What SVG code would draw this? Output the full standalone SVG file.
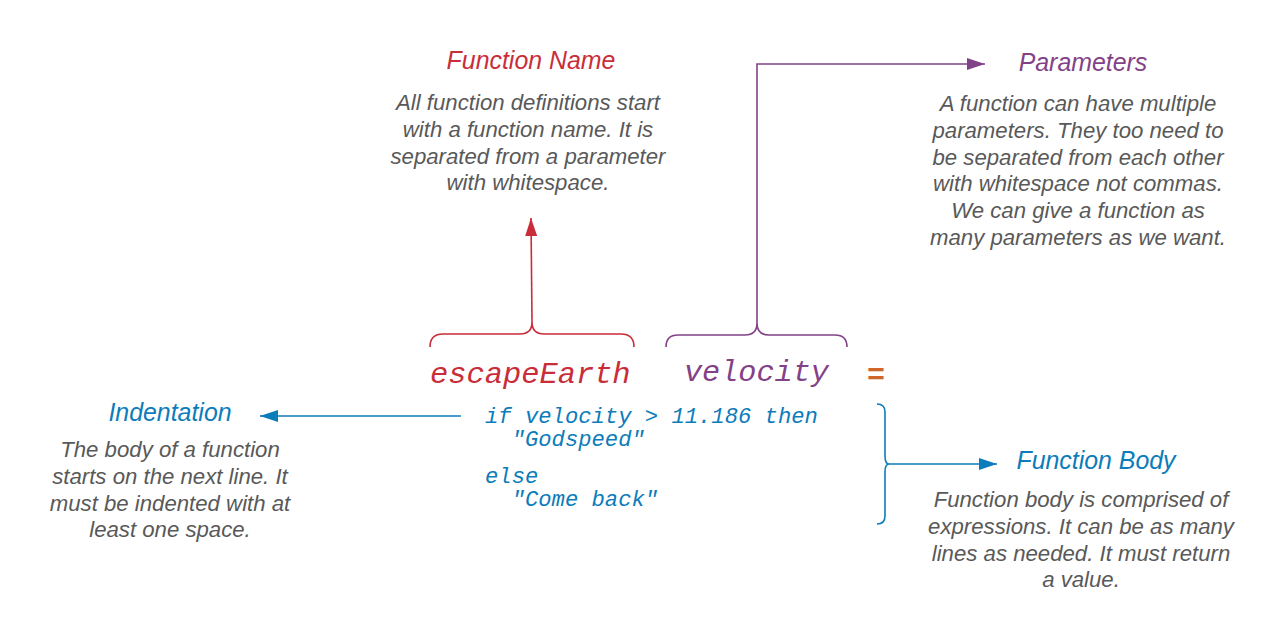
<svg xmlns="http://www.w3.org/2000/svg" width="1284" height="631" viewBox="0 0 1284 631">
<defs>
<style>
.t{font-family:"Liberation Sans",Arial,sans-serif;font-style:italic;text-anchor:middle}
.h{font-size:24.9px}
.d{font-size:22.2px;fill:#595959}
.m{font-family:"Liberation Mono","Courier New",monospace;font-style:italic}
.red{fill:#c92d39}.pur{fill:#834187}.blu{fill:#0c7cba}
.c{fill:none;stroke-width:1.6}
</style>
<marker id="ar-r" viewBox="0 0 18 12" refX="18" refY="6" markerWidth="18" markerHeight="12" markerUnits="userSpaceOnUse" orient="auto"><path d="M0,0 L18,6 L0,12 Z" fill="#c92d39"/></marker>
<marker id="ar-p" viewBox="0 0 18 12" refX="18" refY="6" markerWidth="18" markerHeight="12" markerUnits="userSpaceOnUse" orient="auto"><path d="M0,0 L18,6 L0,12 Z" fill="#834187"/></marker>
<marker id="ar-b" viewBox="0 0 18 12" refX="18" refY="6" markerWidth="18" markerHeight="12" markerUnits="userSpaceOnUse" orient="auto"><path d="M0,0 L18,6 L0,12 Z" fill="#0c7cba"/></marker>
</defs>
<rect width="1284" height="631" fill="#fff"/>
<g id="connectors">
<path class="c" stroke="#c92d39" d="M430,347 Q430,334 443,334 L520,334 Q532,334 532,322 Q532,334 544,334 L621,334 Q634,334 634,347"/>
<path class="c" stroke="#c92d39" d="M532,322 L531,218" marker-end="url(#ar-r)"/>
<path class="c" stroke="#834187" d="M666,347 Q666,335 678,335 L745,335 Q757,335 757,323 Q757,335 769,335 L835,335 Q847,335 847,347"/>
<path class="c" stroke="#834187" d="M757,323 L757,64 L985,64" marker-end="url(#ar-p)"/>
<path class="c" stroke="#0c7cba" d="M877,404 Q885,404 885,412 L885,456 Q885,464 889,464 Q885,464 885,472 L885,516 Q885,524 877,524"/>
<path class="c" stroke="#0c7cba" d="M889,464 L997,464" marker-end="url(#ar-b)"/>
<path class="c" stroke="#0c7cba" d="M461,416 L260,416" marker-end="url(#ar-b)"/>
</g>
<g id="function-name">
<text class="t h red" x="531" y="69">Function Name</text>
<text class="t d" x="528"><tspan x="528" y="110">All function definitions start</tspan><tspan x="528" y="137">with a function name. It is</tspan><tspan x="528" y="164">separated from a parameter</tspan><tspan x="528" y="190">with whitespace.</tspan></text>
</g>
<g id="parameters">
<text class="t h pur" x="1083" y="71">Parameters</text>
<text class="t d"><tspan x="1078" y="111">A function can have multiple</tspan><tspan x="1078" y="138">parameters. They too need to</tspan><tspan x="1078" y="165">be separated from each other</tspan><tspan x="1078" y="191">with whitespace not commas.</tspan><tspan x="1078" y="218">We can give a function as</tspan><tspan x="1078" y="245">many parameters as we want.</tspan></text>
</g>
<g id="indentation">
<text class="t h blu" x="170" y="421">Indentation</text>
<text class="t d"><tspan x="170" y="457">The body of a function</tspan><tspan x="170" y="484">starts on the next line. It</tspan><tspan x="170" y="511">must be indented with at</tspan><tspan x="170" y="537">least one space.</tspan></text>
</g>
<g id="function-body">
<text class="t h blu" x="1096" y="469">Function Body</text>
<text class="t d"><tspan x="1081" y="507">Function body is comprised of</tspan><tspan x="1081" y="534">expressions. It can be as many</tspan><tspan x="1081" y="561">lines as needed. It must return</tspan><tspan x="1081" y="587">a value.</tspan></text>
</g>
<g id="escapeEarth"><text class="m red" x="430" y="383" font-size="30.4">escapeEarth</text></g>
<g id="velocity"><text class="m pur" x="684" y="381" font-size="30.2">velocity</text></g>
<g id="equals"><text x="867" y="384" font-family="Liberation Mono,monospace" font-weight="bold" font-size="30" fill="#d0672a">=</text></g>
<g id="code" class="m blu" font-size="22.2">
<text x="485" y="423" xml:space="preserve">if velocity &gt; 11.186 then</text>
<text x="485" y="446" xml:space="preserve">  "Godspeed"</text>
<text x="485" y="483">else</text>
<text x="485" y="506" xml:space="preserve">  "Come back"</text>
</g>
</svg>
